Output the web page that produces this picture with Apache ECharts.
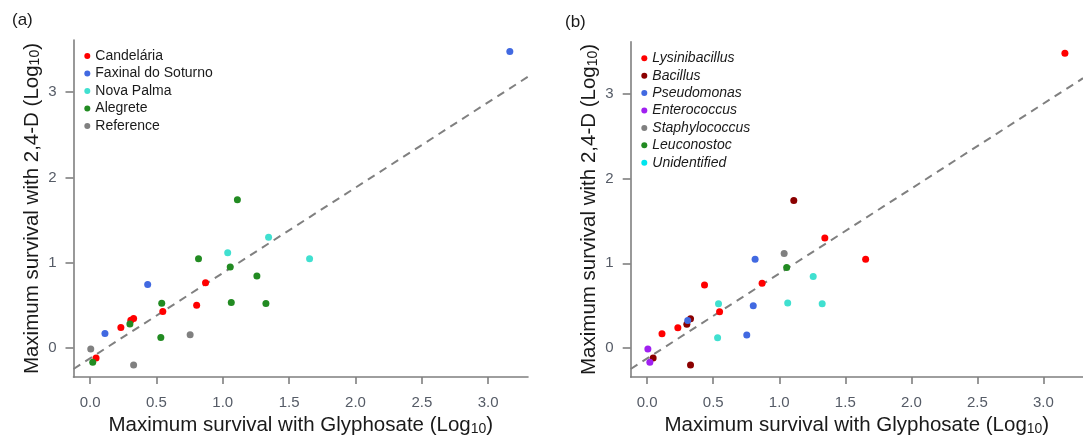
<!DOCTYPE html>
<html>
<head>
<meta charset="utf-8">
<script src="https://cdn.jsdelivr.net/npm/echarts@6/dist/echarts.min.js"></script>
<style>
  html, body { margin: 0; padding: 0; background: #fff; }
  #chart { width: 1083px; height: 441px; }
</style>
</head>
<body>
<div id="chart"></div>
<script>
// values, one entry per strain
var glyphosate = [0.005, 0.02, 0.045, 0.112, 0.232, 0.30, 0.307, 0.328, 0.328, 0.434, 0.533, 0.54, 0.548,
  0.754, 0.803, 0.817, 0.87, 1.037, 1.056, 1.064, 1.11, 1.257, 1.325, 1.345, 1.654, 3.163];
var d24 = [-0.01, -0.165, -0.115, 0.17, 0.24, 0.283, 0.326, 0.347, -0.198, 0.745, 0.123, 0.524, 0.429,
  0.156, 0.501, 1.047, 0.765, 1.117, 0.951, 0.534, 1.739, 0.846, 0.523, 1.299, 1.047, 3.474];
var site = ['Reference', 'Alegrete', 'Candelária', 'Faxinal do Soturno', 'Candelária', 'Alegrete',
  'Candelária', 'Candelária', 'Reference', 'Faxinal do Soturno', 'Alegrete', 'Alegrete', 'Candelária',
  'Reference', 'Candelária', 'Alegrete', 'Candelária', 'Nova Palma', 'Alegrete', 'Alegrete', 'Alegrete',
  'Alegrete', 'Alegrete', 'Nova Palma', 'Nova Palma', 'Faxinal do Soturno'];
var genus = ['Enterococcus', 'Enterococcus', 'Bacillus', 'Lysinibacillus', 'Lysinibacillus', 'Bacillus',
  'Pseudomonas', 'Bacillus', 'Bacillus', 'Lysinibacillus', 'Unidentified', 'Unidentified', 'Lysinibacillus',
  'Pseudomonas', 'Pseudomonas', 'Pseudomonas', 'Lysinibacillus', 'Staphylococcus', 'Leuconostoc',
  'Unidentified', 'Bacillus', 'Unidentified', 'Unidentified', 'Lysinibacillus', 'Lysinibacillus',
  'Lysinibacillus'];

var siteNames = ['Candelária', 'Faxinal do Soturno', 'Nova Palma', 'Alegrete', 'Reference'];
var siteColors = ['#ff0000', '#4169e1', '#40e0d0', '#228b22', '#808080'];
var genusNames = ['Lysinibacillus', 'Bacillus', 'Pseudomonas', 'Enterococcus', 'Staphylococcus', 'Leuconostoc', 'Unidentified'];
var genusColors = ['#ff0000', '#8b0000', '#4169e1', '#a020f0', '#808080', '#228b22', '#40e0d0'];
var genusLegendColors = ['#ff0000', '#8b0000', '#4169e1', '#a020f0', '#808080', '#228b22', '#00e5ee'];

var xTicks = [0, 0.5, 1, 1.5, 2, 2.5, 3];
var yTicks = [0, 1, 2, 3];
// dashed reference line y = a + b*x
var fitIntercept = -0.12;
var fitSlope = 1.0;

var xMin = -0.125, xMax = 3.3, yMin = -0.34, yMax = 3.61;
var font = 'Liberation Sans, Arial, sans-serif';
var axisColor = '#7f7f7f';

var chart = echarts.init(document.getElementById('chart'));

function pointsOf(groups, name) {
  var out = [];
  for (var i = 0; i < glyphosate.length; i++) {
    if (groups[i] === name) out.push([glyphosate[i], d24[i]]);
  }
  return out;
}

function makeX(idx) {
  return {
    type: 'value', gridIndex: idx, min: xMin, max: xMax,
    name: '{t|Maximum survival with Glyphosate (Log}{s|10}{t|)}',
    nameLocation: 'middle', nameGap: 33,
    nameTextStyle: {
      rich: {
        t: { fontFamily: font, fontSize: 20.5, color: '#1a1a1a' },
        s: { fontFamily: font, fontSize: 14, color: '#1a1a1a', verticalAlign: 'bottom', padding: [6, 0, 0, 0] }
      }
    },
    axisLine: { show: true, onZero: false, lineStyle: { color: axisColor, width: 1.6 } },
    axisTick: { show: true, customValues: xTicks, length: 7, lineStyle: { color: axisColor, width: 1.6 } },
    axisLabel: {
      customValues: xTicks, margin: 18, fontFamily: font, fontSize: 15, color: '#555b66',
      formatter: function (v) { return v.toFixed(1); }
    },
    splitLine: { show: false }
  };
}

function makeY(idx) {
  return {
    type: 'value', gridIndex: idx, min: yMin, max: yMax,
    name: '{t|Maximum survival with 2,4-D (Log}{s|10}{t|)}',
    nameLocation: 'middle', nameGap: 31,
    nameTextStyle: {
      rich: {
        t: { fontFamily: font, fontSize: 20.5, color: '#1a1a1a' },
        s: { fontFamily: font, fontSize: 14, color: '#1a1a1a', verticalAlign: 'bottom', padding: [6, 0, 0, 0] }
      }
    },
    axisLine: { show: true, onZero: false, lineStyle: { color: axisColor, width: 1.6 } },
    axisTick: { show: true, customValues: yTicks, length: 8, lineStyle: { color: axisColor, width: 1.6 } },
    axisLabel: { customValues: yTicks, margin: 17, fontFamily: font, fontSize: 15, color: '#555b66' },
    splitLine: { show: false }
  };
}

var series = [];
[0, 1].forEach(function (idx) {
  series.push({
    type: 'line', xAxisIndex: idx, yAxisIndex: idx, silent: true, symbol: 'none',
    data: [[xMin, fitIntercept + fitSlope * xMin], [xMax, fitIntercept + fitSlope * xMax]],
    lineStyle: { color: '#808080', width: 2, type: [8, 6] }, z: 1
  });
});
siteNames.forEach(function (n, i) {
  series.push({
    name: n, type: 'scatter', xAxisIndex: 0, yAxisIndex: 0, symbolSize: 7,
    itemStyle: { color: siteColors[i], opacity: 1 }, data: pointsOf(site, n), z: 3
  });
});
genusNames.forEach(function (n, i) {
  series.push({
    name: n, type: 'scatter', xAxisIndex: 1, yAxisIndex: 1, symbolSize: 7,
    itemStyle: { color: genusColors[i], opacity: 1 }, data: pointsOf(genus, n), z: 3
  });
});

var option = {
  animation: false,
  backgroundColor: '#fff',
  title: [
    { text: '(a)', left: 7, top: 7, textStyle: { fontFamily: font, fontSize: 17, fontWeight: 'normal', color: '#1a1a1a' } },
    { text: '(b)', left: 560, top: 9, textStyle: { fontFamily: font, fontSize: 17, fontWeight: 'normal', color: '#1a1a1a' } }
  ],
  grid: [
    { left: 73.5, top: 40, width: 454.5, height: 338.4 },
    { left: 630.7, top: 41.7, width: 454.5, height: 338.4 }
  ],
  xAxis: [makeX(0), makeX(1)],
  yAxis: [makeY(0), makeY(1)],
  legend: [
    {
      orient: 'vertical', left: 84.3, top: 49, padding: 0, itemGap: 3.5, itemWidth: 6, itemHeight: 6,
      itemTextGap: 10, icon: 'circle', selectedMode: false,
      textStyle: { fontFamily: font, fontSize: 14, color: '#1a1a1a' },
      data: siteNames
    },
    {
      orient: 'vertical', left: 641.3, top: 51.3, padding: 0, itemGap: 3.4, itemWidth: 6, itemHeight: 6,
      itemTextGap: 8, icon: 'circle', selectedMode: false,
      textStyle: { fontFamily: font, fontSize: 14, fontStyle: 'italic', color: '#1a1a1a' },
      data: genusNames.map(function (n, i) { return { name: n, itemStyle: { color: genusLegendColors[i] } }; })
    }
  ],
  series: series
};

chart.setOption(option);
</script>
</body>
</html>
